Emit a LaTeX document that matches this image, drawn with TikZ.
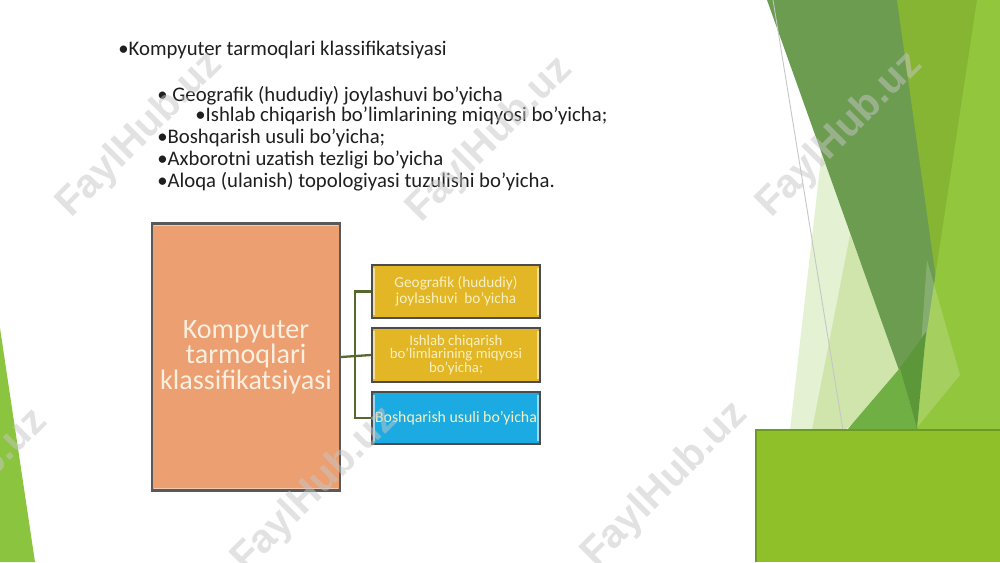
\documentclass[tikz,border=0pt]{standalone}
\usepackage{fontspec}
\setmainfont{Carlito}
\newfontfamily\wmfont{Liberation Sans}
\definecolor{orangef}{HTML}{EC9F70}
\definecolor{goldf}{HTML}{E2B624}
\definecolor{bluef}{HTML}{1CAAE2}
\definecolor{creamt}{HTML}{FBEFE0}
\definecolor{yellowt}{HTML}{F7F0C4}
\definecolor{connc}{HTML}{55692E}
\definecolor{darkg}{HTML}{6B9C50}
\definecolor{oliveg}{HTML}{86B534}
\definecolor{brightg}{HTML}{92C63D}
\definecolor{medg}{HTML}{6FAF44}
\definecolor{deepg}{HTML}{5C973A}
\definecolor{paleg}{HTML}{E4F1D2}
\definecolor{paleg2}{HTML}{CFE5AB}
\definecolor{boxg}{HTML}{8FC02A}
\definecolor{boxgb}{HTML}{6C9A22}
\definecolor{leftg}{HTML}{8BC43F}
\begin{document}
\begin{tikzpicture}[x=0.02cm,y=-0.02cm,
  txt/.style={anchor=base west, inner sep=0pt, font=\fontsize{11.8}{13}\selectfont, text=black!88},
  rootbox/.style={draw=black!65, line width=1.2pt, fill=orangef, minimum width=3.76cm, minimum height=5.34cm, inner sep=0pt, align=center, text=creamt, font=\fontsize{16}{14.5}\selectfont},
  childbox/.style={draw=black!70, line width=1.2pt, minimum width=3.36cm, inner sep=0pt, align=center, text=yellowt},
  conn/.style={draw=connc, line width=1.3pt},
  hilite/.style={line width=0.8pt},
  wm/.style={text=gray!45, opacity=0.5, rotate=45, inner sep=0pt, font=\wmfont\bfseries\fontsize{23}{23}\selectfont}
]
\useasboundingbox (0,0) rectangle (1000,562);
\fill[white] (0,0) rectangle (1000,562);

% ---------- right decoration ----------
\fill[paleg] (822,150) -- (880,150) -- (905,380) -- (845,430) -- (790,430) -- cycle;
\fill[paleg2] (850,235) -- (905,380) -- (845,430) -- (812,430) -- cycle;
\fill[darkg] (767,0) -- (995,0) -- (915,415) -- cycle;
\fill[oliveg] (897,0) -- (977,0) -- (940,307) -- cycle;
\fill[brightg] (977,0) -- (1000,0) -- (1000,430) -- (912,430) -- cycle;
\fill[white, opacity=0.18] (927,260) -- (960,375) -- (915,430) -- cycle;
\fill[medg] (847,430) -- (900,368) -- (918,430) -- cycle;
\fill[deepg] (900,368) -- (926,332) -- (917,428) -- cycle;
\draw[gray!45, line width=0.5pt] (773,0) -- (843,430);
\fill[boxg] (756,430) rectangle (1000,562);
\draw[boxgb, line width=0.8pt] (756,562) -- (756,430) -- (1000,430);

% ---------- left decoration ----------
\fill[leftg] (0,328) -- (35,562) -- (0,562) -- cycle;

% ---------- bullet text ----------
\node[txt] (t0) at (118,55) {•Kompyuter tarmoqlari klassifikatsiyasi};
\node[txt] (t1) at (157,101) {• Geografik (hududiy) joylashuvi bo’yicha};
\node[txt] (t2) at (195,121) {•Ishlab chiqarish bo’limlarining miqyosi bo’yicha;};
\node[txt] (t3) at (157,143) {•Boshqarish usuli bo’yicha;};
\node[txt] (t4) at (157,165) {•Axborotni uzatish tezligi bo’yicha};
\node[txt] (t5) at (157,187) {•Aloqa (ulanish) topologiyasi tuzulishi bo’yicha.};

% ---------- hierarchy diagram ----------
\node[rootbox] (root) at (246,357) {Kompyuter\\tarmoqlari\\klassifikatsiyasi};
\node[childbox, fill=goldf, minimum height=1.06cm, font=\fontsize{8.7}{9}\selectfont] (c1) at (456,291.5) {Geografik (hududiy)\\joylashuvi\ \ bo’yicha};
\node[childbox, fill=goldf, minimum height=1.08cm, font=\fontsize{8.4}{7.3}\selectfont] (c2) at (456,355) {Ishlab chiqarish\\bo’limlarining miqyosi\\bo’yicha;};
\node[childbox, fill=bluef, minimum height=1.04cm, font=\fontsize{9}{10}\selectfont] (c3) at (456,418) {Boshqarish usuli bo’yicha};

% bevel highlights
\draw[hilite, orangef!55!white] ([shift={(3,3)}]root.north west) -- ([shift={(-3,3)}]root.north east);
\draw[hilite, orangef!55!white] ([shift={(3,-3)}]root.south west) -- ([shift={(-3,-3)}]root.south east);
\foreach \b/\c in {c1/goldf, c2/goldf, c3/bluef}{
  \draw[hilite, \c!45!white] ([shift={(3,4)}]\b.north west) -- ([shift={(3,-4)}]\b.south west);
  \draw[hilite, \c!45!white] ([shift={(-3,4)}]\b.north east) -- ([shift={(-3,-4)}]\b.south east);
}

\coordinate (jt) at (355,291.5);
\draw[conn] (c1.west) -- (jt) |- (c3.west);
\draw[conn] (root.east) -- (c2.west);

% ---------- watermarks ----------
\node[wm] (w1) at (140,135) {FaylHub.uz};
\node[wm] (w2) at (490,140) {FaylHub.uz};
\node[wm] (w3) at (840,135) {FaylHub.uz};
\node[wm] (w4) at (-35,492) {FaylHub.uz};
\node[wm] (w5) at (315,490) {FaylHub.uz};
\node[wm] (w6) at (665,485) {FaylHub.uz};
\end{tikzpicture}
\end{document}
